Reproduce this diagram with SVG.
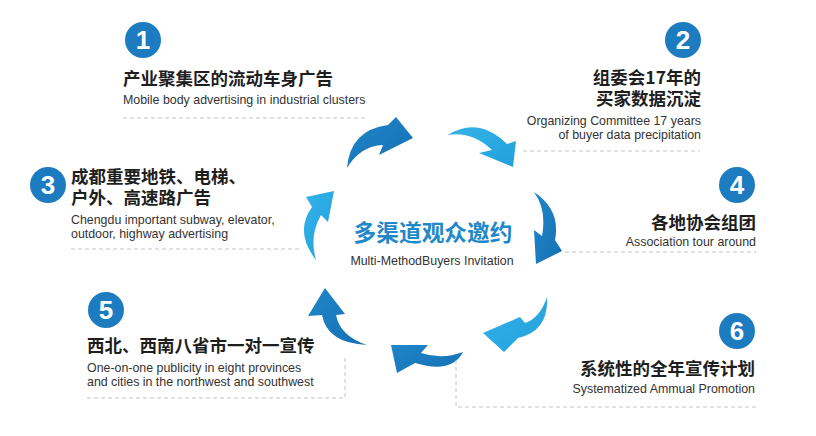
<svg xmlns="http://www.w3.org/2000/svg" width="816" height="436" viewBox="0 0 816 436">
<defs>
<style>
.cn{font-family:"Noto Sans CJK SC","Noto Sans",sans-serif;font-weight:bold;font-size:17.5px;fill:#1e1e1e}
.en{font-family:"Liberation Sans",Arial,sans-serif;font-size:12.4px;fill:#333}
.num{font-family:"Liberation Sans",Arial,sans-serif;font-weight:bold;font-size:26px;fill:#fff;text-anchor:middle}
.circ{fill:#1d7cc0}
.dash{stroke:#c4c4c4;stroke-width:1;stroke-dasharray:4 3;fill:none}
.dark{fill:url(#gd)}
.light{fill:url(#gl)}
.end{text-anchor:end}
</style>
<linearGradient id="gd" x1="0" y1="0" x2="1" y2="1"><stop offset="0" stop-color="#1f86c8"/><stop offset="1" stop-color="#1570b3"/></linearGradient>
<linearGradient id="gl" x1="0" y1="0" x2="1" y2="1"><stop offset="0" stop-color="#35b2e8"/><stop offset="1" stop-color="#21a0dc"/></linearGradient>
</defs>
<rect width="816" height="436" fill="#fff"/>
<g id="connectors">
<path class="dark" d="M347,168 Q350,130 388,125 L396,117 L413,138 L379,155 L383,145 Q360,146 347,168 Z"/>
<path class="light" d="M448,135 Q478,116 507,144 L516,141 L513,167 L479,153 L492,150 Q472,131 448,135 Z"/>
<path class="dark" d="M534,192 Q561,210 555,240 L562,251 L536,264 L534,230 L542,236 Q547,210 534,192 Z"/>
<path class="light" d="M547,297 Q549,331 518,338 L504,352 L483,333 L520,317 L525,323 Q540,318 547,297 Z"/>
<path class="dark" d="M463,352 Q452,374 415,363 L397,373 L391,345 L428,345 L421,353 Q442,360 463,352 Z"/>
<path class="dark" d="M367,345 Q327,343 322,315 L308,316 L325,288 L345,314 L336,315 Q340,336 367,345 Z"/>
<path class="light" d="M316,260 Q294,232 312,207 L306,197 L334,191 L328,222 L321,215 Q309,236 316,260 Z"/>
<path class="dash" d="M123,118 H367 M523,151 H700 M71,249 H302 M565,252 H756 M87,398 H345 V358 M456,360 V407 H756"/>
</g>
<g id="center">
<text x="433" y="241" text-anchor="middle" style="font-family:'Noto Sans CJK SC',sans-serif;font-weight:bold;font-size:22.7px;fill:#1f88c8">多渠道观众邀约</text>
<text x="432" y="265" text-anchor="middle" class="en">Multi-MethodBuyers Invitation</text>
</g>
<g id="node1">
<circle class="circ" cx="143" cy="40" r="18"/><text class="num" x="143" y="49">1</text>
<text class="cn" x="123" y="85">产业聚集区的流动车身广告</text>
<text class="en" x="123" y="104">Mobile body advertising in industrial clusters</text>
</g>
<g id="node2">
<circle class="circ" cx="683" cy="40" r="18"/><text class="num" x="683" y="49">2</text>
<text class="cn end" x="701" y="84">组委会17年的</text>
<text class="cn end" x="701" y="105">买家数据沉淀</text>
<text class="en end" x="701" y="125">Organizing Committee 17 years</text>
<text class="en end" x="701" y="139">of buyer data precipitation</text>
</g>
<g id="node3">
<circle class="circ" cx="48" cy="185" r="18"/><text class="num" x="48" y="194">3</text>
<text class="cn" x="71" y="183">成都重要地铁、电梯、</text>
<text class="cn" x="71" y="204">户外、高速路广告</text>
<text class="en" x="71" y="224">Chengdu important subway, elevator,</text>
<text class="en" x="71" y="238">outdoor, highway advertising</text>
</g>
<g id="node4">
<circle class="circ" cx="737" cy="185" r="18"/><text class="num" x="737" y="194">4</text>
<text class="cn end" x="756" y="229">各地协会组团</text>
<text class="en end" x="756" y="246">Association tour around</text>
</g>
<g id="node5">
<circle class="circ" cx="106" cy="310" r="18"/><text class="num" x="106" y="319">5</text>
<text class="cn" x="87" y="352">西北、西南八省市一对一宣传</text>
<text class="en" x="87" y="372">One-on-one publicity in eight provinces</text>
<text class="en" x="87" y="386">and cities in the northwest and southwest</text>
</g>
<g id="node6">
<circle class="circ" cx="737" cy="331" r="18"/><text class="num" x="737" y="340">6</text>
<text class="cn end" x="755" y="375">系统性的全年宣传计划</text>
<text class="en end" x="755" y="393">Systematized Ammual Promotion</text>
</g>
</svg>
